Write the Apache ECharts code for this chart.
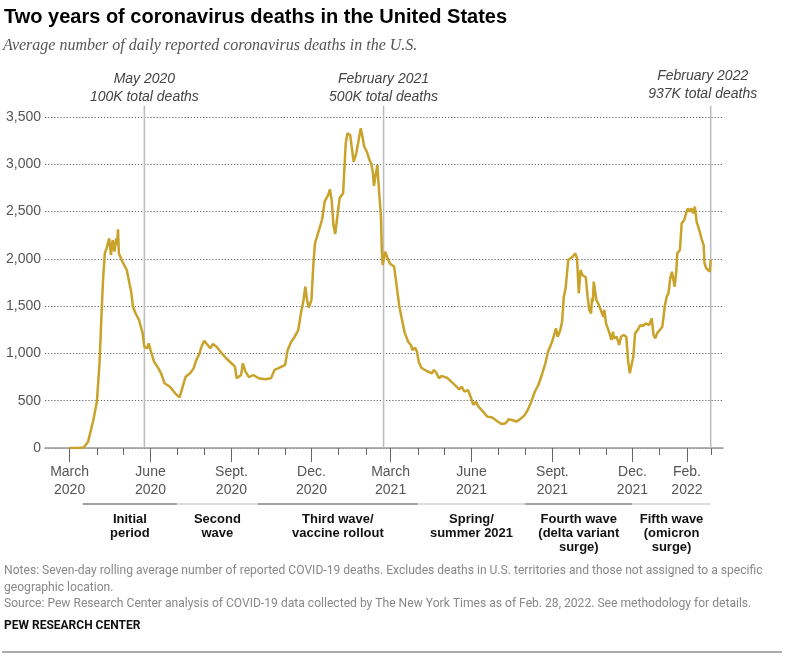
<!DOCTYPE html>
<html>
<head>
<meta charset="utf-8">
<script src="https://cdn.jsdelivr.net/npm/echarts@6/dist/echarts.min.js"></script>
<style>
  html, body { margin: 0; padding: 0; background: #fff; }
  #chart { width: 792px; height: 658px; }
</style>
</head>
<body>
<div id="chart"></div>
<script>
// seven-day average of daily deaths
const dates = [
  '2020-03-01', '2020-03-10', '2020-03-17', '2020-03-22', '2020-03-28', '2020-04-01', '2020-04-04', '2020-04-06',
  '2020-04-08', '2020-04-10', '2020-04-12', '2020-04-15', '2020-04-17', '2020-04-19', '2020-04-21', '2020-04-23',
  '2020-04-24', '2020-04-25', '2020-04-26', '2020-04-28', '2020-04-30', '2020-05-02', '2020-05-05', '2020-05-08',
  '2020-05-10', '2020-05-12', '2020-05-15', '2020-05-19', '2020-05-23', '2020-05-25', '2020-05-28', '2020-05-30',
  '2020-06-01', '2020-06-05', '2020-06-10', '2020-06-13', '2020-06-17', '2020-06-23', '2020-06-29', '2020-07-04',
  '2020-07-07', '2020-07-11', '2020-07-16', '2020-07-20', '2020-07-23', '2020-07-26', '2020-07-29', '2020-08-01',
  '2020-08-04', '2020-08-08', '2020-08-11', '2020-08-15', '2020-08-21', '2020-08-26', '2020-09-01', '2020-09-05',
  '2020-09-07', '2020-09-09', '2020-09-12', '2020-09-14', '2020-09-17', '2020-09-21', '2020-09-26', '2020-10-02',
  '2020-10-09', '2020-10-16', '2020-10-20', '2020-10-24', '2020-10-28', '2020-11-01', '2020-11-04', '2020-11-08',
  '2020-11-12', '2020-11-16', '2020-11-19', '2020-11-22', '2020-11-24', '2020-11-26', '2020-11-28', '2020-12-01',
  '2020-12-03', '2020-12-05', '2020-12-09', '2020-12-13', '2020-12-16', '2020-12-20', '2020-12-22', '2020-12-24',
  '2020-12-26', '2020-12-28', '2020-12-30', '2021-01-02', '2021-01-06', '2021-01-07', '2021-01-09', '2021-01-11',
  '2021-01-14', '2021-01-16', '2021-01-18', '2021-01-21', '2021-01-23', '2021-01-26', '2021-01-28', '2021-01-30',
  '2021-02-02', '2021-02-05', '2021-02-07', '2021-02-09', '2021-02-10', '2021-02-12', '2021-02-14', '2021-02-15',
  '2021-02-18', '2021-02-19', '2021-02-20', '2021-02-23', '2021-02-25', '2021-02-28', '2021-03-02', '2021-03-05',
  '2021-03-08', '2021-03-11', '2021-03-14', '2021-03-17', '2021-03-21', '2021-03-24', '2021-03-26', '2021-03-29',
  '2021-03-31', '2021-04-02', '2021-04-05', '2021-04-11', '2021-04-17', '2021-04-19', '2021-04-22', '2021-04-25',
  '2021-04-28', '2021-05-04', '2021-05-09', '2021-05-15', '2021-05-18', '2021-05-21', '2021-05-24', '2021-05-28',
  '2021-05-31', '2021-06-03', '2021-06-06', '2021-06-09', '2021-06-14', '2021-06-19', '2021-06-24', '2021-06-30',
  '2021-07-05', '2021-07-10', '2021-07-13', '2021-07-17', '2021-07-22', '2021-07-26', '2021-07-31', '2021-08-04',
  '2021-08-08', '2021-08-12', '2021-08-16', '2021-08-20', '2021-08-24', '2021-08-27', '2021-08-31', '2021-09-03',
  '2021-09-05', '2021-09-07', '2021-09-10', '2021-09-12', '2021-09-14', '2021-09-16', '2021-09-19', '2021-09-21',
  '2021-09-24', '2021-09-27', '2021-09-29', '2021-10-01', '2021-10-03', '2021-10-05', '2021-10-09', '2021-10-11',
  '2021-10-13', '2021-10-15', '2021-10-16', '2021-10-17', '2021-10-18', '2021-10-20', '2021-10-21', '2021-10-23',
  '2021-10-26', '2021-10-29', '2021-10-30', '2021-11-01', '2021-11-03', '2021-11-05', '2021-11-07', '2021-11-09',
  '2021-11-10', '2021-11-13', '2021-11-16', '2021-11-18', '2021-11-21', '2021-11-24', '2021-11-26', '2021-11-28',
  '2021-11-30', '2021-12-02', '2021-12-04', '2021-12-07', '2021-12-10', '2021-12-13', '2021-12-16', '2021-12-20',
  '2021-12-23', '2021-12-25', '2021-12-27', '2021-12-29', '2022-01-01', '2022-01-04', '2022-01-07', '2022-01-09',
  '2022-01-11', '2022-01-13', '2022-01-15', '2022-01-18', '2022-01-20', '2022-01-21', '2022-01-24', '2022-01-26',
  '2022-01-29', '2022-01-31', '2022-02-02', '2022-02-04', '2022-02-06', '2022-02-08', '2022-02-10', '2022-02-12',
  '2022-02-15', '2022-02-18', '2022-02-20', '2022-02-21', '2022-02-23', '2022-02-25', '2022-02-27', '2022-02-28'
];
const deaths = [
  0, 1, 5, 67, 296, 490, 895, 1353,
  1776, 2058, 2111, 2217, 2041, 2199, 2076, 2217,
  2146, 2312, 2059, 2076, 1970, 1988, 1882, 1741,
  1653, 1494, 1424, 1353, 1212, 1071, 1054, 1107,
  1036, 913, 842, 790, 684, 648, 578, 536,
  631, 754, 790, 842, 930, 983, 1071, 1135,
  1100, 1054, 1100, 1071, 1001, 949, 896, 860,
  737, 719, 772, 896, 807, 748, 772, 737,
  726, 737, 825, 842, 860, 878, 1036, 1124,
  1177, 1247, 1424, 1565, 1706, 1565, 1484, 1565,
  1917, 2164, 2287, 2411, 2605, 2675, 2735, 2622,
  2358, 2263, 2411, 2640, 2693, 2869, 3222, 3328,
  3310, 3292, 3027, 3116, 3133, 3380, 3292, 3186,
  3133, 3045, 3010, 2905, 2770, 2887, 2993, 2834,
  2446, 2094, 1935, 2076, 2023, 1953, 1970, 1917,
  1706, 1494, 1353, 1220, 1124, 1089, 1036, 1061,
  1018, 913, 849, 814, 790, 825, 796, 737,
  761, 744, 701, 648, 620, 648, 595, 613,
  542, 455, 490, 437, 384, 331, 325, 285,
  254, 261, 303, 296, 278, 303, 342, 402,
  490, 595, 666, 772, 896, 1018, 1107, 1195,
  1265, 1177, 1248, 1336, 1600, 1689, 1988, 1970,
  2023, 2058, 2006, 1635, 1882, 1829, 1805, 1600,
  1459, 1424, 1582, 1547, 1759, 1776, 1565, 1530,
  1459, 1388, 1459, 1318, 1265, 1212, 1142, 1230,
  1159, 1177, 1089, 1177, 1195, 1177, 930, 790,
  807, 965, 1212, 1248, 1300, 1290, 1318, 1300,
  1371, 1195, 1159, 1212, 1248, 1283, 1512, 1600,
  1635, 1794, 1864, 1706, 1882, 2058, 2094, 2376,
  2411, 2481, 2534, 2499, 2534, 2481, 2552, 2393,
  2305, 2199, 2146, 1953, 1900, 1882, 1864, 1988
];

// x axis range and labelled months
const axisStart = '2020-02-02';
const axisEnd = '2022-03-14';
const tickDates = ['2020-03-01', '2020-06-01', '2020-09-01', '2020-12-01', '2021-03-01',
                   '2021-06-01', '2021-09-01', '2021-12-01', '2022-02-01'];
const tickLabels = ['March\n2020', 'June\n2020', 'Sept.\n2020', 'Dec.\n2020', 'March\n2021',
                    'June\n2021', 'Sept.\n2021', 'Dec.\n2021', 'Feb.\n2022'];

// milestone lines
const markerDates = ['2020-05-25', '2021-02-21', '2022-02-28'];
const markerLabels = ['May 2020\n100K total deaths', 'February 2021\n500K total deaths',
                      'February 2022\n937K total deaths'];

// wave periods under the axis
const waveStarts = ['2020-03-16', '2020-07-01', '2020-10-01', '2021-04-01', '2021-08-01', '2021-12-01'];
const waveEnds = ['2020-07-01', '2020-10-01', '2021-04-01', '2021-08-01', '2021-12-01', '2022-02-28'];
const waveLabels = ['Initial\nperiod', 'Second\nwave', 'Third wave/\nvaccine rollout', 'Spring/\nsummer 2021',
                    'Fourth wave\n(delta variant\nsurge)', 'Fifth wave\n(omicron\nsurge)'];

const SANS = '"Liberation Sans", Arial, sans-serif';

// one category per day so the ticks fall on month starts
function dayList(a, b) {
  const out = [];
  let t = Date.parse(a + 'T00:00:00Z');
  const end = Date.parse(b + 'T00:00:00Z');
  while (t <= end) {
    out.push(new Date(t).toISOString().slice(0, 10));
    t += 86400000;
  }
  return out;
}
const days = dayList(axisStart, axisEnd);
const values = days.map(() => null);
dates.forEach((d, i) => { values[days.indexOf(d)] = deaths[i]; });

const chart = echarts.init(document.getElementById('chart'), null, { renderer: 'canvas' });

const option = {
  animation: false,
  backgroundColor: '#fff',
  title: [
    {
      text: 'Two years of coronavirus deaths in the United States',
      left: 4, top: 7, padding: 0,
      textStyle: { fontFamily: SANS, fontWeight: 'bold', fontSize: 20, color: '#000' }
    },
    {
      text: 'Average number of daily reported coronavirus deaths in the U.S.',
      left: 3, top: 38, padding: 0,
      textStyle: { fontFamily: '"Liberation Serif", serif', fontStyle: 'italic', fontWeight: 'normal',
                   fontSize: 16, color: '#555' }
    },
    {
      text: 'Notes: Seven-day rolling average number of reported COVID-19 deaths. Excludes deaths in U.S. territories and those not assigned to a specific\n' +
            'geographic location.\n' +
            'Source: Pew Research Center analysis of COVID-19 data collected by The New York Times as of Feb. 28, 2022. See methodology for details.',
      left: 4, top: 563, padding: 0,
      textStyle: { fontFamily: 'Roboto, sans-serif', fontWeight: 'normal', fontSize: 12.1, lineHeight: 16.5, color: '#888' }
    },
    {
      text: 'PEW RESEARCH CENTER',
      left: 4, top: 620, padding: 0,
      textStyle: { fontFamily: 'Roboto, sans-serif', fontWeight: 'bold', fontSize: 12, color: '#111' }
    }
  ],
  grid: { left: 45, right: 69, top: 117, bottom: 210 },
  xAxis: [
    {
      type: 'category',
      data: days,
      boundaryGap: false,
      position: 'bottom',
      axisLine: { lineStyle: { color: '#999', width: 1.5 } },
      axisTick: {
        interval: (i, v) => v.slice(8) === '01',
        length: 7,
        lineStyle: { color: '#666', width: 1 }
      },
      axisLabel: { show: false },
      splitLine: { show: false }
    },
    {
      type: 'category',
      data: days,
      boundaryGap: false,
      position: 'bottom',
      axisLine: { show: false },
      axisTick: {
        interval: (i, v) => tickDates.includes(v),
        length: 14,
        lineStyle: { color: '#666', width: 1 }
      },
      axisLabel: {
        interval: (i, v) => tickDates.includes(v),
        formatter: v => tickLabels[tickDates.indexOf(v)],
        fontFamily: SANS, fontSize: 14, lineHeight: 18, color: '#555', margin: 15
      },
      splitLine: { show: false }
    }
  ],
  yAxis: {
    type: 'value',
    min: 0,
    max: 3500,
    interval: 500,
    axisLine: { show: false },
    axisTick: { show: false },
    axisLabel: {
      formatter: v => v.toLocaleString('en-US'),
      fontFamily: SANS, fontSize: 14, color: '#555', margin: 4
    },
    splitLine: { lineStyle: { color: '#666', width: 1.2, type: [1.2, 1.9] } }
  },
  series: [
    {
      type: 'line',
      data: values,
      connectNulls: true,
      showSymbol: false,
      silent: true,
      z: 5,
      lineStyle: { color: '#C9A22A', width: 2.5 }
    }
  ]
};
chart.setOption(option);

// annotations placed through the chart's own scales
const xp = d => chart.convertToPixel({ xAxisIndex: 0 }, days.indexOf(d));
const yp = v => chart.convertToPixel({ yAxisIndex: 0 }, v);
const graphics = [];
const lineTop = yp(3620);
const base = yp(0);

markerDates.forEach((d, i) => {
  const x = xp(d);
  graphics.push({
    type: 'line', z: 1, silent: true,
    shape: { x1: x, y1: lineTop, x2: x, y2: base },
    style: { stroke: '#bbb', lineWidth: 1.5 }
  });
  graphics.push({
    type: 'text', silent: true,
    style: {
      text: markerLabels[i],
      x: i === 2 ? x - 8 : x,
      y: i === 2 ? lineTop - 3 : lineTop,
      align: 'center', verticalAlign: 'bottom',
      font: 'italic 14px ' + SANS, lineHeight: 18, fill: '#444'
    }
  });
});

const bandY = base + 56;
waveLabels.forEach((t, i) => {
  const x1 = xp(waveStarts[i]);
  const x2 = xp(waveEnds[i]);
  graphics.push({
    type: 'line', silent: true,
    shape: { x1: x1, y1: bandY, x2: x2, y2: bandY },
    style: { stroke: i % 2 ? '#dcdcdc' : '#a0a0a0', lineWidth: 2 }
  });
  graphics.push({
    type: 'text', silent: true,
    style: {
      text: t, x: (x1 + x2) / 2, y: bandY + 8,
      align: 'center', verticalAlign: 'top',
      font: 'bold 13px ' + SANS, lineHeight: 14, fill: '#111'
    }
  });
});

// rule at the very bottom
graphics.push({
  type: 'line', silent: true,
  shape: { x1: 2, y1: 652, x2: 782, y2: 652 },
  style: { stroke: '#aaa', lineWidth: 2 }
});

chart.setOption({ graphic: graphics });
</script>
</body>
</html>
